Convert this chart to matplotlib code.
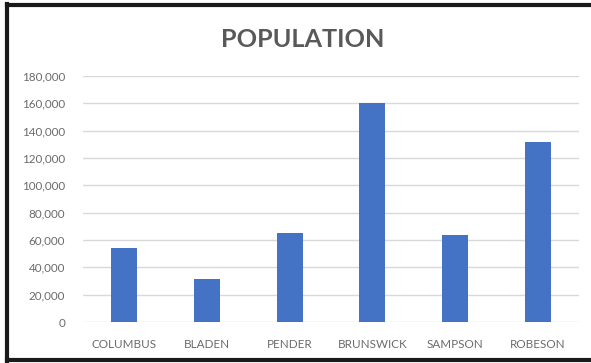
import matplotlib.pyplot as plt
from matplotlib.lines import Line2D
from matplotlib.ticker import FuncFormatter

plt.rcParams["font.family"] = ["Lato", "DejaVu Sans"]

counties = ["COLUMBUS", "BLADEN", "PENDER", "BRUNSWICK", "SAMPSON", "ROBESON"]
population = [54000, 31500, 65000, 160500, 63500, 132000]
yticks = list(range(0, 180001, 20000))

fig = plt.figure(figsize=(5.91, 3.63), dpi=100)
ax = fig.add_axes([0.1404, 0.1129, 0.8393, 0.6777])

x = range(len(counties))
ax.bar(x, population, width=0.315, color="#4472C4", zorder=3)

ax.set_xlim(-0.5, len(counties) - 0.5)
ax.set_ylim(0, 180000)
ax.set_yticks(yticks)
ax.yaxis.set_major_formatter(FuncFormatter(lambda v, p: f"{int(v):,}"))
ax.set_xticks(list(x))
ax.set_xticklabels(counties)

ax.grid(axis="y", color="#d9d9d9", linewidth=1.0, zorder=0)
for s in ax.spines.values():
    s.set_visible(False)
ax.tick_params(axis="both", length=0, labelsize=8.4, colors="#6b6b6b")
ax.tick_params(axis="y", pad=13)
ax.tick_params(axis="x", pad=12)

fig.text(0.513, 0.89, "POPULATION", ha="center", va="center",
         fontsize=18.2, fontweight="bold", color="#595959")

# dark frame along left, top and bottom edges
frame = dict(color="#1a1a1a", linewidth=3, transform=fig.transFigure)
fig.add_artist(Line2D([0.012, 0.012], [0.005, 0.99], **frame))
fig.add_artist(Line2D([0.012, 1.0], [0.986, 0.986], **frame))
fig.add_artist(Line2D([0.012, 1.0], [0.007, 0.007], **frame))

fig.savefig("out.png", dpi=100)
